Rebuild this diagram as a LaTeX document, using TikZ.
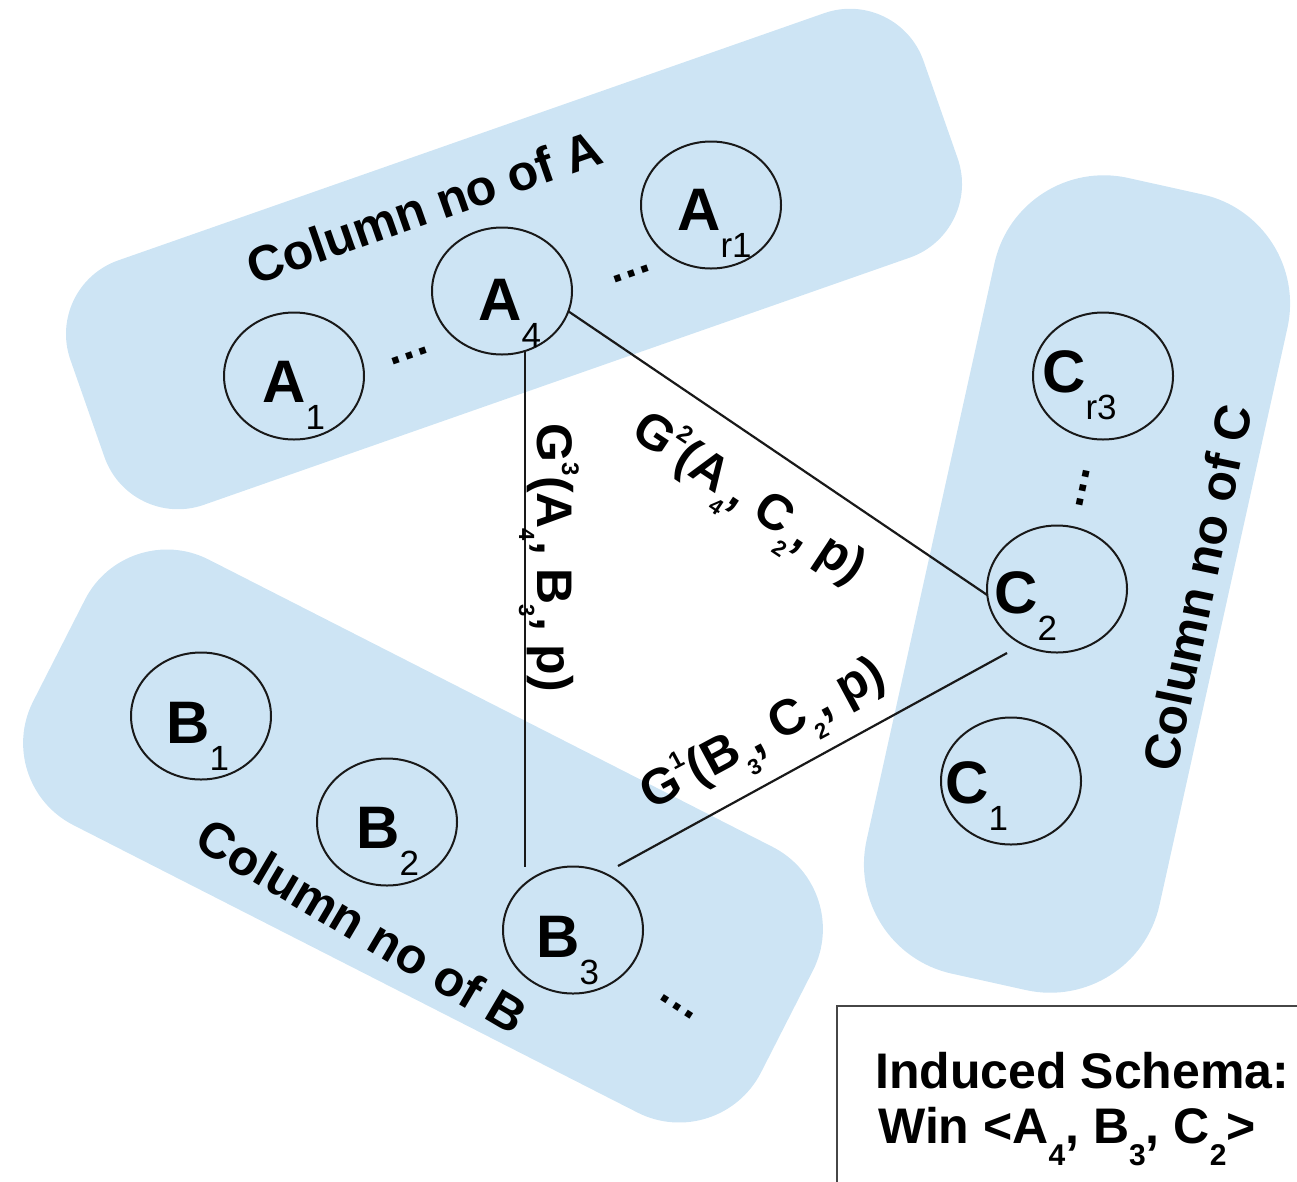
\documentclass[tikz,border=0pt]{standalone}
\usepackage{fontspec}
\setmainfont{Liberation Sans}
\usetikzlibrary{shapes.geometric,calc}
\definecolor{bandblue}{RGB}{205,228,244}
\definecolor{inkline}{RGB}{25,25,25}
% letter with a lowered, lighter index, as used inside the column circles
\newcommand\collabel[2]{#1\raisebox{-27pt}{\fontsize{35}{35}\selectfont\mdseries #2}}
% small lowered / raised indices inside the edge labels
\newcommand\lo[1]{\raisebox{-18pt}{\fontsize{22}{22}\selectfont #1}}
\newcommand\hi[1]{\raisebox{25pt}{\fontsize{24}{24}\selectfont #1}}
% indices of the schema line
\newcommand\blo[1]{\raisebox{-22pt}{\fontsize{30}{30}\selectfont #1}}
\begin{document}
\begin{tikzpicture}[x=1pt,y=-1pt,
  band/.style={shape=rectangle, fill=bandblue, draw=none, inner sep=0pt, outer sep=0pt},
  col/.style={ellipse, draw=inkline, line width=2pt, minimum width=140pt, minimum height=127pt, inner sep=0pt, outer sep=0pt},
  lbl/.style={anchor=base west, inner sep=0pt, font=\fontsize{60}{72}\selectfont\bfseries},
  colname/.style={inner sep=0pt, font=\fontsize{50}{60}\selectfont\bfseries},
  edgelbl/.style={anchor=base, inner sep=0pt, font=\fontsize{50}{60}\selectfont\bfseries},
  link/.style={draw=inkline, line width=2.2pt},
  ellip/.style={inner sep=0pt, font=\fontsize{45}{54}\selectfont\bfseries}]
\useasboundingbox (0,0) rectangle (1297,1181);
\clip (0,0) rectangle (1297,1181);

% column groups
\node[band, minimum width=904pt, minimum height=259pt, rounded corners=78pt, rotate=19.3] (bandA) at (514,259) {};
\node[band, minimum width=817pt, minimum height=298pt, rounded corners=92pt, rotate=-27] (bandB) at (423,836) {};
\node[band, minimum width=815pt, minimum height=300pt, rounded corners=112pt, rotate=77.5] (bandC) at (1077,584) {};

% group titles
\node[colname, rotate=19.3] (titleA) at (424,207) {Column no of A};
\node[colname, rotate=-30.5] (titleB) at (362,926) {Column no of B};
\node[colname, rotate=78.2] (titleC) at (1197,588) {Column no of C};

% column circles
\node[col] (A1) at (294,376) {};
\node[col] (A4) at (502,291) {};
\node[col] (Ar1) at (711,205) {};
\node[col] (Cr3) at (1103,376) {};
\node[col] (C2) at (1057,589) {};
\node[col] (C1) at (1011,781) {};
\node[col] (B1) at (201,716) {};
\node[col] (B2) at (387,822) {};
\node[col] (B3) at (573,930) {};

% circle captions
\node[lbl] (A1t) at (262,402) {\collabel{A}{1}};
\node[lbl] (A4t) at (478,320) {\collabel{A}{4}};
\node[lbl] (Ar1t) at (677,230) {\collabel{A}{r1}};
\node[lbl] (Cr3t) at (1042,392) {\collabel{C}{r3}};
\node[lbl] (C2t) at (994,613) {\collabel{C}{2}};
\node[lbl] (C1t) at (945,803) {\collabel{C}{1}};
\node[lbl] (B1t) at (166,743) {\collabel{B}{1}};
\node[lbl] (B2t) at (356,848) {\collabel{B}{2}};
\node[lbl] (B3t) at (536,957) {\collabel{B}{3}};

% elided columns
\node[ellip, rotate=19.3] (dA1) at (410,356) {…};
\node[ellip, rotate=19.3] (dA2) at (632,274) {…};
\node[ellip, rotate=-102] (dC) at (1083,488) {…};
\node[ellip, rotate=-33] (dB) at (677,1007) {…};

% links between the chosen columns
\draw[link] (A4.-69) -- (A4.-69 |- B3.north);
\draw[link] (A4.-17) -- (C2.185);
\draw[link] ($(B3)+(45,-64)$) -- ($(C2)+(-50,64)$);

% link labels
\node[edgelbl, rotate=-90] (g3) at (537,558) {G\hi{3}(A\lo{4}, B\lo{3}, p)};
\node[edgelbl, rotate=-33.5] (g2) at (741,511) {G\hi{2}(A\lo{4}, C\lo{2}, p)};
\node[edgelbl, rotate=28.3] (g1) at (770,747) {G\hi{1}(B\lo{3}, C\lo{2}, p)};

% resulting schema
\node[draw={rgb,255:red,70;green,70;blue,70}, line width=1.6pt, shape=rectangle, anchor=north west,
      minimum width=500pt, minimum height=240pt, inner sep=0pt] (schema) at (836,1005) {};
\node[anchor=base west, inner sep=0pt, font=\fontsize{50}{60}\selectfont\bfseries] (schema1) at (875,1088) {Induced Schema:};
\node[anchor=base west, inner sep=0pt, font=\fontsize{50}{60}\selectfont\bfseries] (schema2) at (878,1143) {Win <A\blo{4}, B\blo{3}, C\blo{2}>};
\end{tikzpicture}
\end{document}
